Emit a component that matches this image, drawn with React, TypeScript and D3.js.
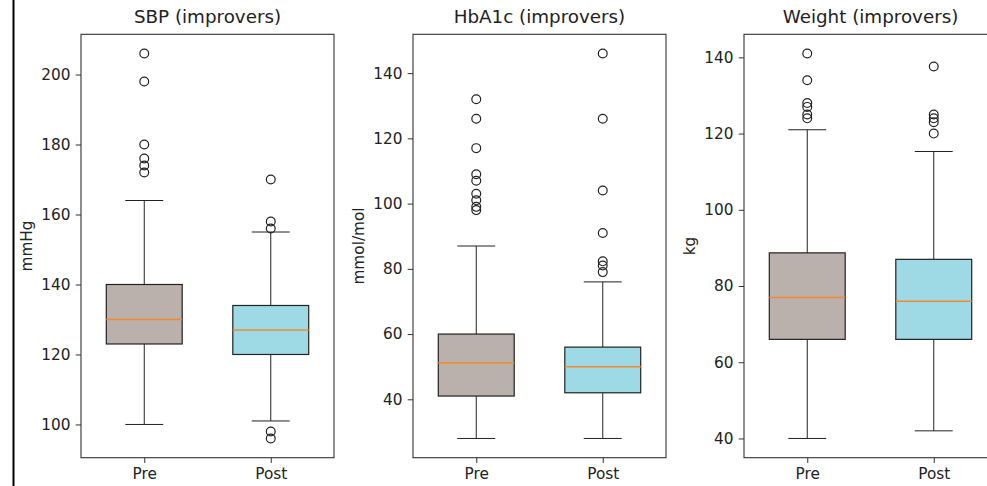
import React, { useRef, useEffect } from 'react';
import * as d3 from 'd3';

// group labels
const groups = ['Pre', 'Post'];

// box stats per panel: [whisker low, q1, median, q3, whisker high]
const sbpPre = [100, 123, 130, 140, 164];
const sbpPost = [101, 120, 127, 134, 155];
const sbpPreOut = [206, 198, 180, 176, 174, 172];
const sbpPostOut = [170, 158, 156, 98, 96];

const hbaPre = [28, 41, 51.2, 60, 87];
const hbaPost = [28, 42, 50, 56, 76];
const hbaPreOut = [132, 126, 117, 109, 107, 103, 101, 99, 98];
const hbaPostOut = [146, 126, 104, 91, 82.3, 81, 79];

const wtPre = [40, 66, 77, 88.7, 121];
const wtPost = [42, 66, 76, 87, 115.3];
const wtPreOut = [141, 134, 128, 127, 125, 124];
const wtPostOut = [137.6, 125, 124, 123, 120];

const sbpTicks = [100, 120, 140, 160, 180, 200];
const hbaTicks = [40, 60, 80, 100, 120, 140];
const wtTicks = [40, 60, 80, 100, 120, 140];

const panels = [
    { title: 'SBP (improvers)', ylabel: 'mmHg', stats: [sbpPre, sbpPost], outliers: [sbpPreOut, sbpPostOut], ticks: sbpTicks, left: 81 },
    { title: 'HbA1c (improvers)', ylabel: 'mmol/mol', stats: [hbaPre, hbaPost], outliers: [hbaPreOut, hbaPostOut], ticks: hbaTicks, left: 413 },
    { title: 'Weight (improvers)', ylabel: 'kg', stats: [wtPre, wtPost], outliers: [wtPreOut, wtPostOut], ticks: wtTicks, left: 744 },
];

const fills = ['#bab0ac', '#9edae5'];
const W = 987;
const H = 486;

const App = () => {
    const ref = useRef<SVGSVGElement>(null);

    useEffect(() => {
        const svg = d3.select(ref.current);
        svg.selectAll('*').remove();

        const top = 34.3;
        const bottom = 457.7;
        const pw = 253;
        const font = 'DejaVu Sans, sans-serif';
        const ink = '#222';

        // border line on the far left of the picture
        svg.append('line')
            .attr('x1', 13.5).attr('x2', 13.5)
            .attr('y1', 0).attr('y2', H)
            .attr('stroke', '#000')
            .attr('stroke-width', 2);

        panels.forEach(p => {
            // matplotlib style autoscale: 5% margin around all data
            const all = p.stats.flat().concat(p.outliers.flat());
            const lo = d3.min(all)!;
            const hi = d3.max(all)!;
            const pad = (hi - lo) * 0.05;

            const y = d3.scaleLinear().domain([lo - pad, hi + pad]).range([bottom, top]);
            const x = d3.scaleLinear().domain([0.5, 2.5]).range([p.left, p.left + pw]);
            const unit = x(1) - x(0);

            const g = svg.append('g');

            // boxes
            p.stats.forEach((s, i) => {
                const cx = x(i + 1);
                const [wl, q1, med, q3, wh] = s;
                const half = unit * 0.3;
                const cap = unit * 0.15;

                g.append('line')
                    .attr('x1', cx).attr('x2', cx)
                    .attr('y1', y(q3)).attr('y2', y(wh))
                    .attr('stroke', ink).attr('stroke-width', 1);
                g.append('line')
                    .attr('x1', cx).attr('x2', cx)
                    .attr('y1', y(q1)).attr('y2', y(wl))
                    .attr('stroke', ink).attr('stroke-width', 1);
                g.append('line')
                    .attr('x1', cx - cap).attr('x2', cx + cap)
                    .attr('y1', y(wh)).attr('y2', y(wh))
                    .attr('stroke', ink).attr('stroke-width', 1);
                g.append('line')
                    .attr('x1', cx - cap).attr('x2', cx + cap)
                    .attr('y1', y(wl)).attr('y2', y(wl))
                    .attr('stroke', ink).attr('stroke-width', 1);

                g.append('rect')
                    .attr('x', cx - half)
                    .attr('y', y(q3))
                    .attr('width', half * 2)
                    .attr('height', y(q1) - y(q3))
                    .attr('fill', fills[i])
                    .attr('stroke', ink)
                    .attr('stroke-width', 1.2);

                g.append('line')
                    .attr('x1', cx - half).attr('x2', cx + half)
                    .attr('y1', y(med)).attr('y2', y(med))
                    .attr('stroke', '#f5882a').attr('stroke-width', 1.4);

                g.selectAll(null)
                    .data(p.outliers[i])
                    .enter()
                    .append('circle')
                    .attr('cx', cx)
                    .attr('cy', d => y(d))
                    .attr('r', 4.4)
                    .attr('fill', 'none')
                    .attr('stroke', ink)
                    .attr('stroke-width', 1.2);
            });

            // spines
            g.append('rect')
                .attr('x', p.left)
                .attr('y', top)
                .attr('width', pw)
                .attr('height', bottom - top)
                .attr('fill', 'none')
                .attr('stroke', '#333')
                .attr('stroke-width', 1.1);

            // y axis
            const yAxis = g.append('g')
                .attr('transform', `translate(${p.left},0)`)
                .call(d3.axisLeft(y).tickValues(p.ticks).tickSize(5.3).tickPadding(5.3).tickFormat(d3.format('d')));
            yAxis.select('.domain').remove();
            yAxis.selectAll('.tick line').attr('stroke', '#333');
            yAxis.selectAll('.tick text')
                .attr('fill', '#222')
                .style('font-family', font)
                .style('font-size', '15.3px');

            // x axis
            const xAxis = g.append('g')
                .attr('transform', `translate(0,${bottom})`)
                .call(d3.axisBottom(x).tickValues([1, 2]).tickSize(5.3).tickPadding(5.3).tickFormat((d, i) => groups[i]));
            xAxis.select('.domain').remove();
            xAxis.selectAll('.tick line').attr('stroke', '#333');
            xAxis.selectAll('.tick text')
                .attr('fill', '#222')
                .style('font-family', font)
                .style('font-size', '15.3px');

            // title
            g.append('text')
                .attr('x', p.left + pw / 2)
                .attr('y', 23)
                .attr('text-anchor', 'middle')
                .attr('fill', '#222')
                .style('font-family', font)
                .style('font-size', '18.3px')
                .text(p.title);

            // y label
            g.append('text')
                .attr('transform', `translate(${p.left - 49},${(top + bottom) / 2}) rotate(-90)`)
                .attr('text-anchor', 'middle')
                .attr('fill', '#222')
                .style('font-family', font)
                .style('font-size', '15.3px')
                .text(p.ylabel);
        });
    }, []);

    return (
        <svg
            ref={ref}
            width={W}
            height={H}
            style={{ position: 'absolute', left: 0, top: 0, background: '#fff' }}
        ></svg>
    );
};

export default App;
